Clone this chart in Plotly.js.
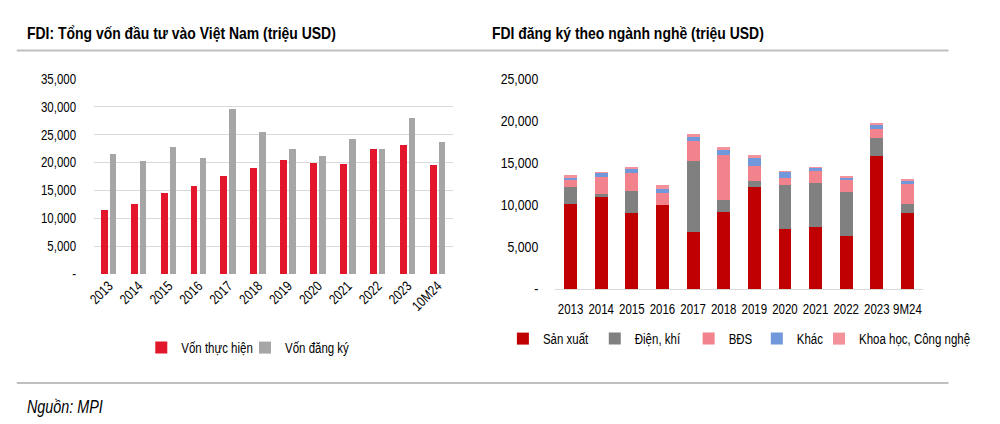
<!DOCTYPE html>
<html>
<head>
<meta charset="utf-8">
<script src="https://cdn.plot.ly/plotly-3.0.1.min.js"></script>
<style>
html,body{margin:0;padding:0;background:#fff;}
#chart{width:1000px;height:424px;}
</style>
</head>
<body>
<div id="chart"></div>
<script>
// Left chart data (million USD)
const yearsLeft = ["2013","2014","2015","2016","2017","2018","2019","2020","2021","2022","2023","10M24"];
const vonThucHien = [11500,12500,14500,15800,17500,19100,20400,19900,19700,22400,23200,19500];
const vonDangKy   = [21600,20200,22800,20900,29600,25500,22500,21100,24300,22400,28000,23700];

// Right chart data (million USD)
const yearsRight = ["2013","2014","2015","2016","2017","2018","2019","2020","2021","2022","2023","9M24"];
const sanXuat = [10100,10950,9000,9950,6830,9150,12190,7190,7350,6270,15870,9000];
const dienKhi = [2050,320,2710,100,8440,1480,640,5160,5320,5320,2080,1070];
const bds     = [800,2120,2120,1420,2320,5350,1840,920,1320,1360,1110,2400];
const khac    = [320,400,440,400,480,600,880,600,360,320,520,440];
const khcn    = [330,160,230,480,400,360,400,120,200,200,200,160];

const leftTicks = [0,5000,10000,15000,20000,25000,30000,35000];
const leftTickText = ["-","5,000","10,000","15,000","20,000","25,000","30,000","35,000"];
const rightTicks = [0,5000,10000,15000,20000,25000];
const rightTickText = ["-","5,000","10,000","15,000","20,000","25,000"];

const FONT = "'Liberation Sans', Arial, sans-serif";
const NARROW = 0.82; // emulate a narrow sans face

const traces = [
  {type:'bar', name:'Vốn thực hiện', x:yearsLeft, y:vonThucHien, xaxis:'x', yaxis:'y',
   offset:-0.265, width:0.23, marker:{color:'#E2172C'}, legend:'legend'},
  {type:'bar', name:'Vốn đăng ký', x:yearsLeft, y:vonDangKy, xaxis:'x3', yaxis:'y3',
   offset:0.035, width:0.22, marker:{color:'#A6A6A6'}, legend:'legend2'},
  {type:'bar', name:'Sản xuất', x:yearsRight, y:sanXuat, xaxis:'x2', yaxis:'y2',
   marker:{color:'#C00000'}, legend:'legend3'},
  {type:'bar', name:'Điện, khí', x:yearsRight, y:dienKhi, xaxis:'x2', yaxis:'y2',
   marker:{color:'#808080'}, legend:'legend4'},
  {type:'bar', name:'BĐS', x:yearsRight, y:bds, xaxis:'x2', yaxis:'y2',
   marker:{color:'#F2828C'}, legend:'legend5'},
  {type:'bar', name:'Khác', x:yearsRight, y:khac, xaxis:'x2', yaxis:'y2',
   marker:{color:'#7098DA'}, legend:'legend6'},
  {type:'bar', name:'Khoa học, Công nghệ', x:yearsRight, y:khcn, xaxis:'x2', yaxis:'y2',
   marker:{color:'#F4929B'}, legend:'legend7'}
];

function leg(xpx, ypx){
  return {orientation:'h', x:xpx/1000, xanchor:'left', y:1-ypx/424, yanchor:'middle',
          font:{family:FONT, size:14, color:'#000'}, bgcolor:'rgba(0,0,0,0)', borderwidth:0};
}

const layout = {
  width:1000, height:424,
  margin:{l:0,r:0,t:0,b:0},
  paper_bgcolor:'#fff', plot_bgcolor:'rgba(0,0,0,0)',
  font:{family:FONT, size:13, color:'#000'},
  barmode:'stack',
  bargap:0.58,
  showlegend:true,
  xaxis:{domain:[0.095,0.458], anchor:'y', type:'category', range:[-0.5,11.5], tickangle:-45,
         showgrid:false, showline:false, ticks:'', zeroline:false,
         tickfont:{family:FONT, size:14}},
  yaxis:{domain:[0.3538,0.8137], anchor:'x', range:[0,35000], tickvals:leftTicks, ticktext:leftTickText,
         showgrid:true, gridcolor:'#D9D9D9', gridwidth:1, zeroline:false, showline:false,
         ticks:'outside', ticklen:14, tickcolor:'rgba(0,0,0,0)', tickfont:{family:FONT, size:14}},
  xaxis3:{domain:[0.095,0.458], anchor:'y3', overlaying:'x', type:'category', range:[-0.5,11.5], visible:false},
  yaxis3:{domain:[0.3538,0.8137], anchor:'x3', overlaying:'y', range:[0,35000], visible:false},
  xaxis2:{domain:[0.562,0.934], anchor:'y2', type:'category', tickangle:0,
          showgrid:false, showline:true, linecolor:'#D9D9D9', linewidth:1,
          ticks:'outside', ticklen:7, tickcolor:'rgba(0,0,0,0)', zeroline:false,
          tickfont:{family:FONT, size:14}},
  yaxis2:{domain:[0.3184,0.8137], anchor:'x2', range:[0,25000], tickvals:rightTicks, ticktext:rightTickText,
          showgrid:false, zeroline:false, showline:false,
          ticks:'outside', ticklen:13, tickcolor:'rgba(0,0,0,0)', tickfont:{family:FONT, size:15}},
  legend: leg(143,348),
  legend2: leg(248,348),
  legend3: leg(509,339),
  legend4: leg(602,339),
  legend5: leg(697,339),
  legend6: leg(766,339),
  legend7: leg(829,339),
  shapes:[
    {type:'line', xref:'paper', yref:'paper', x0:0.017, x1:0.96, y0:1-50.5/424, y1:1-50.5/424,
     line:{color:'#BFBFBF', width:2}},
    {type:'line', xref:'paper', yref:'paper', x0:0.017, x1:0.96, y0:1-383/424, y1:1-383/424,
     line:{color:'#BFBFBF', width:2}}
  ],
  annotations:[
    {text:'<b>FDI: Tổng vốn đầu tư vào Việt Nam (triệu USD)</b>', xref:'paper', yref:'paper',
     x:0.025, y:1-33/424, xanchor:'left', yanchor:'middle', align:'left', showarrow:false,
     font:{family:FONT, size:17, color:'#000'}},
    {text:'<b>FDI đăng ký theo ngành nghề (triệu USD)</b>', xref:'paper', yref:'paper',
     x:0.496, y:1-33/424, xanchor:'left', yanchor:'middle', align:'left', showarrow:false,
     font:{family:FONT, size:17, color:'#000'}},
    {text:'<i>Nguồn: MPI</i>', xref:'paper', yref:'paper',
     x:0.025, y:1-407/424, xanchor:'left', yanchor:'middle', align:'left', showarrow:false,
     font:{family:FONT, size:17.5, color:'#000'}}
  ]
};

Plotly.newPlot('chart', traces, layout, {displayModeBar:false, staticPlot:true}).then(function(gd){
  gd.querySelectorAll('svg text').forEach(function(el){
    var w = el.getComputedTextLength();
    if (w > 0) {
      el.setAttribute('textLength', (w*NARROW).toFixed(2));
      el.setAttribute('lengthAdjust', 'spacingAndGlyphs');
    }
  });
});
</script>
</body>
</html>
